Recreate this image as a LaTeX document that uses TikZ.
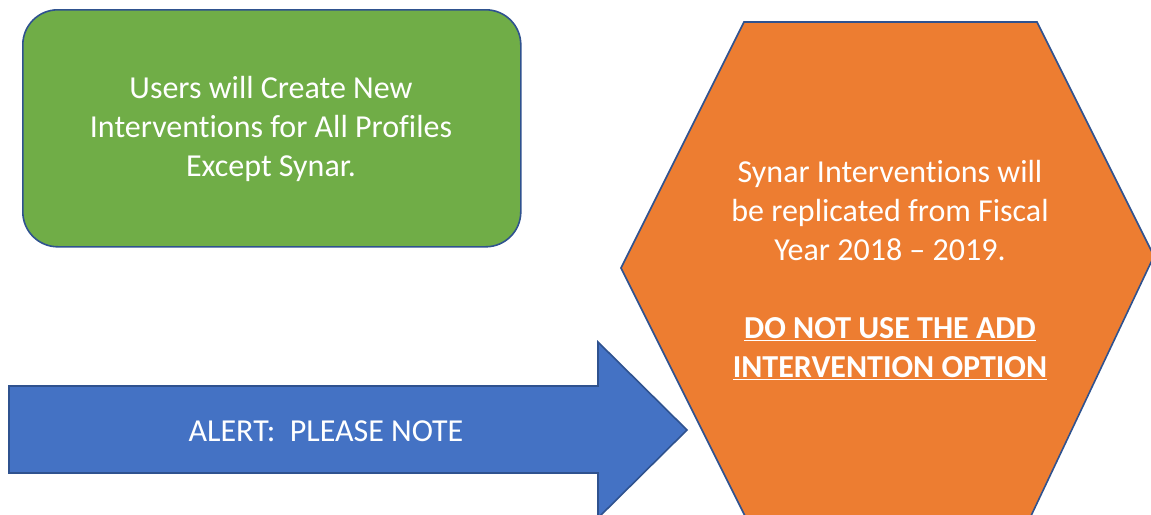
\documentclass[tikz,border=0pt]{standalone}
\usepackage{fontspec}
\setmainfont{Carlito}[Ligatures={NoCommon}]
\begin{document}
\begin{tikzpicture}[x=1pt,y=-1pt,
  edge/.style={draw=outlineblue,line width=1.6pt,line join=miter},
  label/.style={text=white,font=\fontsize{32}{39}\selectfont,align=center,inner sep=0pt}]
\definecolor{outlineblue}{HTML}{2F528F}
\definecolor{boxgreen}{HTML}{70AD47}
\definecolor{hexorange}{HTML}{ED7D31}
\definecolor{arrowblue}{HTML}{4472C4}
\useasboundingbox (0,0) rectangle (1151,514);

% green rounded box
\node[edge,fill=boxgreen,rounded corners=35pt,minimum width=498pt,minimum height=237pt,
      anchor=north west] (usersbox) at (22,9) {};
\node[label] (userstext) at (271,129)
  {Users will Create New\\Interventions for All Profiles\\Except Synar.};

% orange hexagon, running past the lower edge
\coordinate (hexTL) at (744,22);
\coordinate (hexTR) at (1037,22);
\coordinate (hexR) at (1154,256);
\coordinate (hexBR) at (1030,518);
\coordinate (hexBL) at (746,518);
\coordinate (hexL) at (621,268);
\draw[edge,fill=hexorange] (hexTL) -- (hexTR) -- (hexR) -- (hexBR) -- (hexBL) -- (hexL) -- cycle;
\node[label] (synartext) at (890,270)
  {Synar Interventions will\\be replicated from Fiscal\\Year 2018 – 2019.\\[39pt]
   \textbf{\underline{DO NOT USE THE ADD}}\\\textbf{\underline{INTERVENTION OPTION}}};

% blue block arrow
\coordinate (shaftTL) at (9,386);
\coordinate (shaftTR) at (598,386);
\coordinate (headT) at (598,342);
\coordinate (tip) at (687,430);
\coordinate (headB) at (598,518);
\coordinate (shaftBR) at (598,473);
\coordinate (shaftBL) at (9,473);
\draw[edge,fill=arrowblue] (shaftTL) -- (shaftTR) -- (headT) -- (tip) -- (headB) -- (shaftBR) -- (shaftBL) -- cycle;
\node[label] (alerttext) at (326,431) {ALERT:\ \ PLEASE NOTE};
\end{tikzpicture}
\end{document}
